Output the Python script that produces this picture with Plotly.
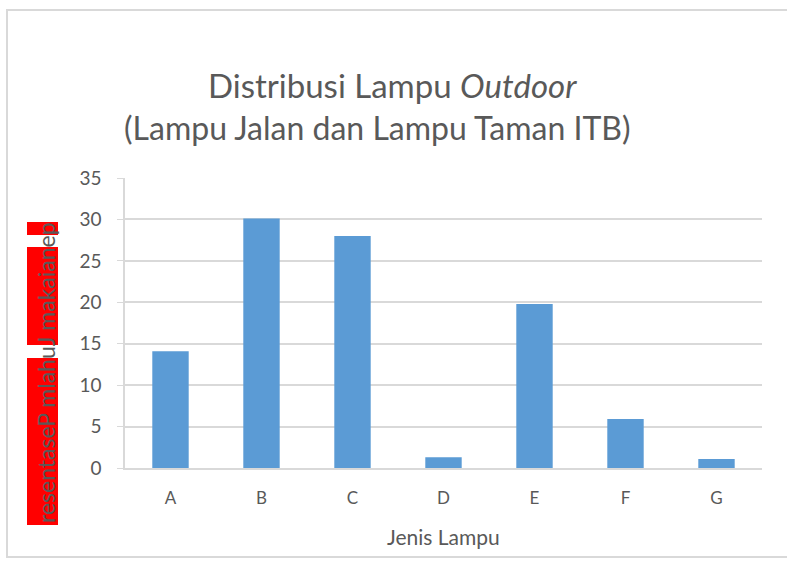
import plotly.graph_objects as go

categories = ["A", "B", "C", "D", "E", "F", "G"]
values = [14.1, 30.1, 28.0, 1.3, 19.8, 5.9, 1.1]
title_line1 = "Distribusi Lampu <i>Outdoor</i>"
title_line2 = "(Lampu Jalan dan Lampu Taman ITB)"
x_title = "Jenis Lampu"
y_title = "resentaseP mlahuJ makaianep"

W, H = 787, 562
L, R, T, B = 125, 25, 178, 94
PW, PH = W - L - R, H - T - B

def px(x):
    return (x - L) / PW

def py(y):
    return (H - B - y) / PH

FONT = "Lato, 'Open Sans', sans-serif"
GREY = "#595959"

fig = go.Figure(go.Bar(x=categories, y=values, marker=dict(color="#5b9bd5", line=dict(width=0)), width=0.4))

shapes = [
    dict(type="rect", xref="paper", yref="paper", x0=px(7), x1=px(800), y0=py(10), y1=py(557),
         line=dict(color="#d9d9d9", width=2), fillcolor="rgba(0,0,0,0)", layer="below"),
]
for y0, y1 in [(222, 235), (247, 345), (358, 525)]:
    shapes.append(dict(type="rect", xref="paper", yref="paper", x0=px(27), x1=px(58), y0=py(y0), y1=py(y1),
                       line=dict(width=0), fillcolor="#ff0000", layer="below"))

annotations = [
    dict(text=title_line1, xref="paper", yref="paper", x=px(392), y=py(85), showarrow=False,
         font=dict(family=FONT, size=33, color=GREY), xanchor="center", yanchor="middle"),
    dict(text=title_line2, xref="paper", yref="paper", x=px(377), y=py(127), showarrow=False,
         font=dict(family=FONT, size=32, color=GREY), xanchor="center", yanchor="middle"),
    dict(text=y_title, xref="paper", yref="paper", x=px(46), y=py(373), showarrow=False, textangle=-90,
         font=dict(family=FONT, size=23, color=GREY), xanchor="center", yanchor="middle"),
    dict(text=x_title, xref="paper", yref="paper", x=px(443), y=py(536), showarrow=False,
         font=dict(family=FONT, size=21, color=GREY), xanchor="center", yanchor="middle"),
]

fig.update_layout(
    width=W, height=H, margin=dict(l=L, r=R, t=T, b=B),
    paper_bgcolor="white", plot_bgcolor="white",
    showlegend=False, shapes=shapes, annotations=annotations,
    font=dict(family=FONT, color=GREY),
    bargap=0.6,
)
fig.update_xaxes(showgrid=False, showline=True, linecolor="#d9d9d9", linewidth=2, ticks="",
                 tickfont=dict(size=17, color=GREY), ticklabelstandoff=14)
fig.update_yaxes(range=[0, 35], dtick=5, showgrid=True, gridcolor="#d9d9d9", gridwidth=1.5,
                 showline=True, linecolor="#d9d9d9", linewidth=1.5, ticks="outside", ticklen=6,
                 tickcolor="#d9d9d9", tickfont=dict(size=19, color=GREY), zeroline=False,
                 ticklabelstandoff=12)

fig.write_html("out.html", config={"displayModeBar": False},
               post_script="document.body.style.margin='0';document.body.style.overflow='hidden';")
